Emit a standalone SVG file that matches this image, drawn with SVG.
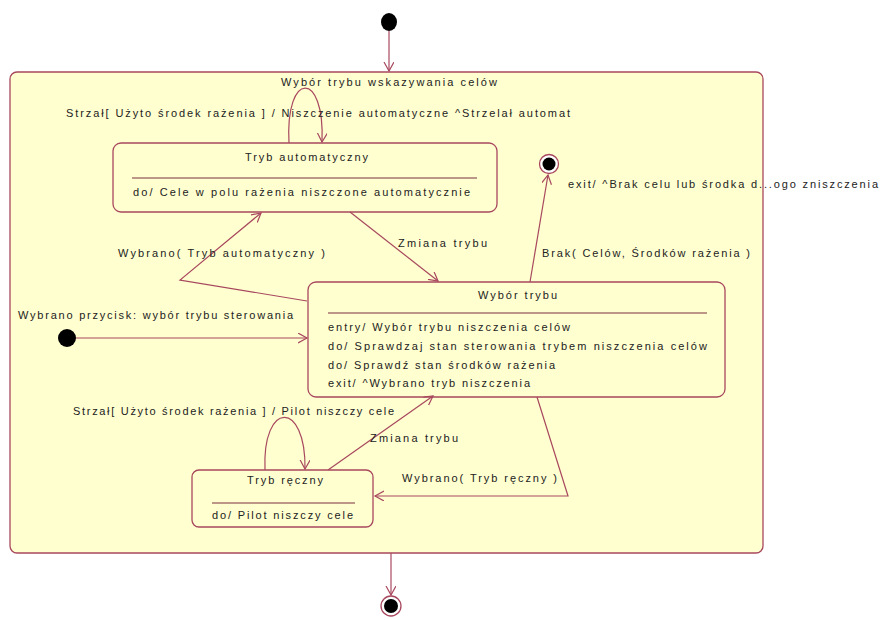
<svg xmlns="http://www.w3.org/2000/svg" width="880" height="620" viewBox="0 0 880 620">
<defs>
<marker id="arr" markerWidth="12" markerHeight="12" refX="9" refY="5" orient="auto" markerUnits="userSpaceOnUse">
<path d="M0,0 L9,5 L0,10" fill="none" stroke="#a8485e" stroke-width="1.2"/>
</marker>
<style>
.box{fill:#ffffd0;stroke:#a8485e;stroke-width:1.3}
.sep{stroke:#7a3040;stroke-width:1.2}
.ln{fill:none;stroke:#a8485e;stroke-width:1.2}
.t{font-family:"Liberation Sans",Arial,sans-serif;font-size:11px;fill:#222}
.c{text-anchor:middle}
</style>
</defs>
<rect width="880" height="620" fill="#ffffff"/>

<g id="composite">
<rect class="box" x="10" y="72" width="753" height="481" rx="7"/>
<text class="t" x="281" y="86" textLength="216" lengthAdjust="spacing">Wybór trybu wskazywania celów</text>
</g>

<g id="initial-top">
<ellipse cx="389" cy="22" rx="8" ry="9" fill="#000"/>
</g>

<g id="initial-inner">
<circle cx="67" cy="338" r="9" fill="#000"/>
</g>

<g id="final-inner">
<circle cx="549" cy="164" r="9.5" fill="#ffffff" stroke="#a8485e" stroke-width="1.3"/>
<circle cx="549" cy="164" r="6.5" fill="#000"/>
</g>

<g id="final-bottom">
<circle cx="391" cy="606" r="10" fill="#ffffff" stroke="#a8485e" stroke-width="1.3"/>
<circle cx="391" cy="606" r="7" fill="#000"/>
</g>

<g id="tryb-automatyczny">
<rect class="box" x="113" y="143" width="384" height="69" rx="8"/>
<text class="t" x="245" y="161" textLength="123" lengthAdjust="spacing">Tryb automatyczny</text>
<line class="sep" x1="132" y1="178" x2="477" y2="178"/>
<text class="t" x="133" y="196" textLength="337" lengthAdjust="spacing">do/ Cele w polu rażenia niszczone automatycznie</text>
</g>

<g id="wybor-trybu">
<rect class="box" x="308" y="282" width="417" height="115" rx="8"/>
<text class="t" x="478" y="299" textLength="79" lengthAdjust="spacing">Wybór trybu</text>
<line class="sep" x1="328" y1="313" x2="707" y2="313"/>
<text class="t" x="328" y="331" textLength="242" lengthAdjust="spacing">entry/ Wybór trybu niszczenia celów</text>
<text class="t" x="328" y="350" textLength="379" lengthAdjust="spacing">do/ Sprawdzaj stan sterowania trybem niszczenia celów</text>
<text class="t" x="328" y="369" textLength="227" lengthAdjust="spacing">do/ Sprawdź stan środków rażenia</text>
<text class="t" x="328" y="387" textLength="202" lengthAdjust="spacing">exit/ ^Wybrano tryb niszczenia</text>
</g>

<g id="tryb-reczny">
<rect class="box" x="192" y="470" width="181" height="57" rx="7"/>
<text class="t" x="247" y="484" textLength="76" lengthAdjust="spacing">Tryb ręczny</text>
<line class="sep" x1="212" y1="503" x2="355" y2="503"/>
<text class="t" x="212" y="519" textLength="141" lengthAdjust="spacing">do/ Pilot niszczy cele</text>
</g>

<g id="connectors">
<line class="ln" x1="389" y1="31" x2="389" y2="71" marker-end="url(#arr)"/>
<path class="ln" d="M289,143 C285,70 325,70 322,142" marker-end="url(#arr)"/>
<text class="t" x="66" y="117" textLength="504" lengthAdjust="spacing">Strzał[ Użyto środek rażenia ] / Niszczenie automatyczne ^Strzelał automat</text>
<polyline class="ln" points="307,301 180,280 261,213" marker-end="url(#arr)"/>
<text class="t" x="118" y="257" textLength="207" lengthAdjust="spacing">Wybrano( Tryb automatyczny )</text>
<line class="ln" x1="350" y1="212" x2="438" y2="281" marker-end="url(#arr)"/>
<text class="t" x="398" y="247" textLength="89" lengthAdjust="spacing">Zmiana trybu</text>
<line class="ln" x1="530" y1="282" x2="548" y2="175" marker-end="url(#arr)"/>
<text class="t" x="542" y="257" textLength="208" lengthAdjust="spacing">Brak( Celów, Środków rażenia )</text>
<text class="t" x="568" y="188" textLength="310" lengthAdjust="spacing">exit/ ^Brak celu lub środka d...ogo zniszczenia</text>
<line class="ln" x1="76" y1="338" x2="307" y2="338" marker-end="url(#arr)"/>
<text class="t" x="18" y="319" textLength="275" lengthAdjust="spacing">Wybrano przycisk: wybór trybu sterowania</text>
<path class="ln" d="M265,470 C262,400 306,400 305,469" marker-end="url(#arr)"/>
<text class="t" x="73" y="415" textLength="321" lengthAdjust="spacing">Strzał[ Użyto środek rażenia ] / Pilot niszczy cele</text>
<line class="ln" x1="328" y1="470" x2="433" y2="396" marker-end="url(#arr)"/>
<text class="t" x="370" y="442" textLength="88" lengthAdjust="spacing">Zmiana trybu</text>
<polyline class="ln" points="537,397 568,496 375,496" marker-end="url(#arr)"/>
<text class="t" x="402" y="482" textLength="155" lengthAdjust="spacing">Wybrano( Tryb ręczny )</text>
<line class="ln" x1="391" y1="553" x2="391" y2="595" marker-end="url(#arr)"/>
</g>
</svg>
